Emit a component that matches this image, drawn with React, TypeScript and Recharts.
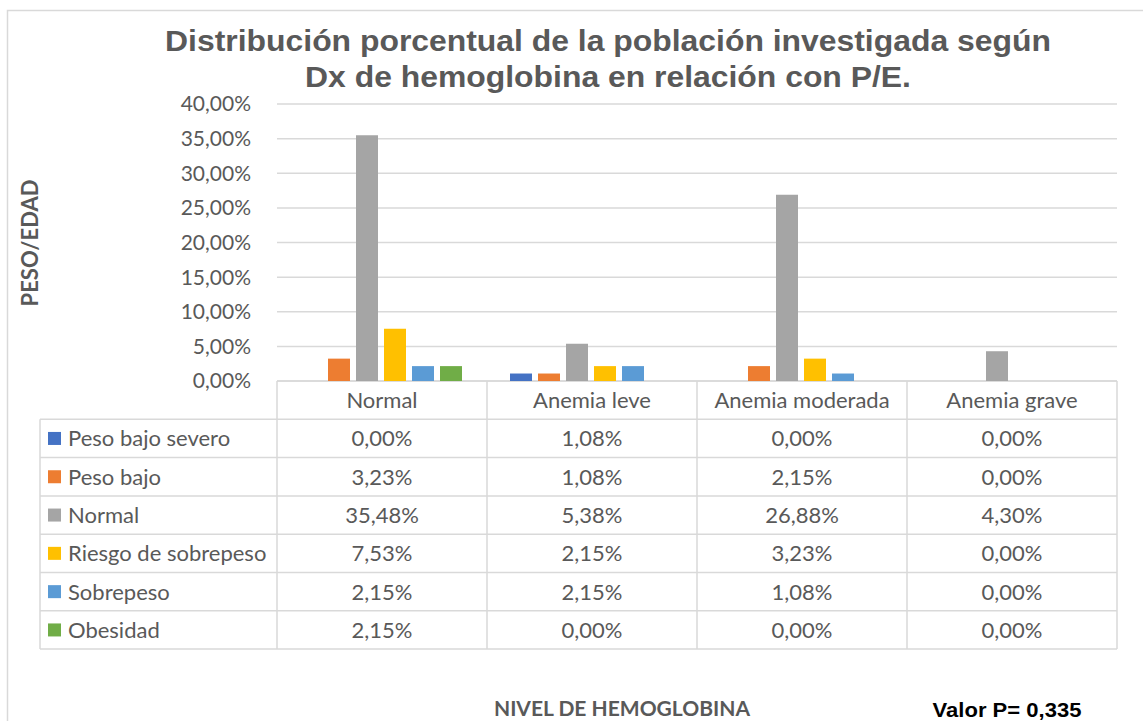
import React from "react";
import { BarChart, Bar, XAxis, YAxis, CartesianGrid, Customized } from "recharts";

// categories on the x axis (also the table header)
const categories = ["Normal", "Anemia leve", "Anemia moderada", "Anemia grave"];

// series values, in percent
const pesoBajoSevero = [0.0, 1.08, 0.0, 0.0];
const pesoBajo = [3.23, 1.08, 2.15, 0.0];
const normal = [35.48, 5.38, 26.88, 4.3];
const riesgoSobrepeso = [7.53, 2.15, 3.23, 0.0];
const sobrepeso = [2.15, 2.15, 1.08, 0.0];
const obesidad = [2.15, 0.0, 0.0, 0.0];

const yTicks = [0, 5, 10, 15, 20, 25, 30, 35, 40];

const series = [
	{ key: "pesoBajoSevero", name: "Peso bajo severo", values: pesoBajoSevero, color: "#4472C4" },
	{ key: "pesoBajo", name: "Peso bajo", values: pesoBajo, color: "#ED7D31" },
	{ key: "normal", name: "Normal", values: normal, color: "#A5A5A5" },
	{ key: "riesgo", name: "Riesgo de sobrepeso", values: riesgoSobrepeso, color: "#FFC000" },
	{ key: "sobrepeso", name: "Sobrepeso", values: sobrepeso, color: "#5B9BD5" },
	{ key: "obesidad", name: "Obesidad", values: obesidad, color: "#70AD47" },
];

const data = categories.map((cat, i) => {
	const row: any = { name: cat };
	series.forEach((s) => (row[s.key] = s.values[i]));
	return row;
});

const W = 1143;
const H = 721;
const PLOT = { left: 277, right: 1117, top: 104, bottom: 381 };
const Y_AXIS_W = 80;
const ROW_H = 38.3;
const TABLE_LEFT = 40;
const GRID = "#d9d9d9";
const TEXT = "#595959";
const BODY_FONT = "Lato, 'Open Sans', sans-serif";
const ARIAL = "'Liberation Sans', Arial, sans-serif";

const fmt = (v: number) => v.toFixed(2).replace(".", ",") + "%";

// the data table under the plot, plus titles
const TableLayer = () => {
	const band = (PLOT.right - PLOT.left) / categories.length;
	const headerBottom = PLOT.bottom + ROW_H;
	const tableBottom = headerBottom + ROW_H * series.length;
	const lines: React.ReactNode[] = [];

	lines.push(<line key="top" x1={PLOT.left} x2={PLOT.right} y1={PLOT.bottom} y2={PLOT.bottom} />);
	for (let r = 0; r <= series.length; r++) {
		const y = headerBottom + r * ROW_H;
		lines.push(<line key={"h" + r} x1={TABLE_LEFT} x2={PLOT.right} y1={y} y2={y} />);
	}
	lines.push(<line key="vl" x1={TABLE_LEFT} x2={TABLE_LEFT} y1={headerBottom} y2={tableBottom} />);
	for (let c = 0; c <= categories.length; c++) {
		const x = PLOT.left + c * band;
		lines.push(<line key={"v" + c} x1={x} x2={x} y1={PLOT.bottom} y2={tableBottom} />);
	}

	return (
		<g>
			<rect x={7.5} y={10.5} width={1150} height={725} fill="none" stroke={GRID} strokeWidth={1.5} />
			<g stroke={GRID} strokeWidth={1.5}>{lines}</g>
			<g fontFamily={BODY_FONT} fontSize={22} fill={TEXT}>
				{categories.map((c, i) => (
					<text key={c} x={PLOT.left + band * (i + 0.5)} y={PLOT.bottom + ROW_H / 2} dy="0.36em" textAnchor="middle">
						{c}
					</text>
				))}
				{series.map((s, r) => {
					const cy = headerBottom + ROW_H * (r + 0.5);
					return (
						<g key={s.key}>
							<rect x={48} y={cy - 6.5} width={13} height={13} fill={s.color} />
							<text x={68} y={cy} dy="0.36em">
								{s.name}
							</text>
							{s.values.map((v, i) => (
								<text key={i} x={PLOT.left + band * (i + 0.5)} y={cy} dy="0.36em" textAnchor="middle">
									{fmt(v)}
								</text>
							))}
						</g>
					);
				})}
			</g>
			<g
				transform="translate(608,0) scale(1.1,1)"
				fontFamily={ARIAL}
				fontWeight="bold"
				fontSize={29}
				fill={TEXT}
				textAnchor="middle"
			>
				<text x={0} y={51}>Distribución porcentual de la población investigada según</text>
				<text x={0} y={87}>Dx de hemoglobina en relación con P/E.</text>
			</g>
			<text
				transform="translate(38,243) rotate(-90)"
				textAnchor="middle"
				fontFamily={BODY_FONT}
				fontWeight="bold"
				fontSize={22}
				fill={TEXT}
			>
				PESO/EDAD
			</text>
			<text x={622} y={716} textAnchor="middle" fontFamily={BODY_FONT} fontWeight="bold" fontSize={21} fill={TEXT}>
				NIVEL DE HEMOGLOBINA
			</text>
			<text
				transform="translate(1007,717) scale(1.13,1)"
				textAnchor="middle"
				fontFamily={ARIAL}
				fontWeight="bold"
				fontSize={19.5}
				fill="#000"
			>
				Valor P= 0,335
			</text>
		</g>
	);
};

export default function App() {
	return (
		<div style={{ position: "absolute", left: 0, top: 0, width: W, height: H, background: "#fff", overflow: "hidden" }}>
			<BarChart
				width={W}
				height={H}
				data={data}
				margin={{ top: PLOT.top, right: W - PLOT.right, bottom: H - PLOT.bottom, left: PLOT.left - Y_AXIS_W }}
				barCategoryGap={23}
				barGap={6}
			>
				<CartesianGrid vertical={false} stroke={GRID} strokeWidth={1.5} />
				<XAxis dataKey="name" hide />
				<YAxis
					width={Y_AXIS_W}
					domain={[0, 40]}
					ticks={yTicks}
					tickFormatter={fmt}
					axisLine={false}
					tickLine={false}
					tickSize={0}
					tickMargin={26}
					tick={{ fill: TEXT, fontSize: 21, fontFamily: BODY_FONT }}
				/>
				{series.map((s) => (
					<Bar key={s.key} dataKey={s.key} name={s.name} fill={s.color} isAnimationActive={false} />
				))}
				<Customized component={TableLayer} />
			</BarChart>
		</div>
	);
}
